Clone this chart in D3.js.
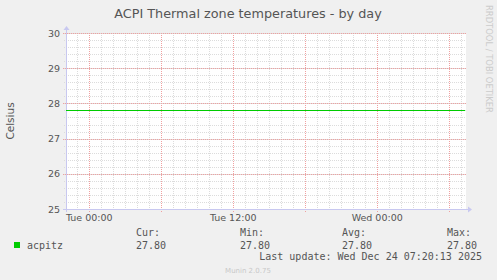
<!DOCTYPE html>
<html>
<head>
<meta charset="utf-8">
<script src="https://cdn.jsdelivr.net/npm/d3@7"></script>
<style>
  body { margin: 0; background: #f0f0f0; }
  svg { display: block; }
</style>
</head>
<body>
<svg id="chart"></svg>
<script>
// acpitz readings, 5 min samples (sparse - value does not move all day)
var times = ["2025-12-22T22:04:00", "2025-12-23T03:00:00", "2025-12-23T09:00:00",
	"2025-12-23T15:00:00", "2025-12-23T21:00:00", "2025-12-24T03:00:00", "2025-12-24T07:20:00"];
var values = [27.8, 27.8, 27.8, 27.8, 27.8, 27.8, 27.8];
var yTicks = [25, 26, 27, 28, 29, 30];
var xLabels = ["2025-12-23T00:00:00", "2025-12-23T12:00:00", "2025-12-24T00:00:00"];
var legendHead = ["Cur:", "Min:", "Avg:", "Max:"];
var legendVals = ["27.80", "27.80", "27.80", "27.80"];
var seriesName = "acpitz";
var startTime = "2025-12-22T22:04:00", endTime = "2025-12-24T07:24:00";

var svgWidth = 497, svgHeight = 280;
var margin = { top: 33, left: 66 };
var width = 400, height = 176;

var svg = d3.select("#chart")
	.attr("width", svgWidth)
	.attr("height", svgHeight);

svg.append("rect").attr("width", svgWidth).attr("height", svgHeight).attr("fill", "#f0f0f0");

var g = svg.append("g")
	.attr("transform", "translate(" + margin.left + "," + margin.top + ")");

var x = d3.scaleTime()
	.domain([new Date(startTime), new Date(endTime)])
	.range([0, width]);

var y = d3.scaleLinear()
	.domain([25, 30])
	.range([height, 0]);

var data = times.map(function(t, i) { return { date: new Date(t), value: values[i] }; });

g.append("rect").attr("width", width).attr("height", height).attr("fill", "#ffffff");

// minor grid
var minorX = d3.timeHour.every(1).range(x.domain()[0], x.domain()[1]);
g.selectAll(".mx").data(minorX).enter().append("line")
	.attr("x1", function(d) { return Math.round(x(d)) + 0.5; })
	.attr("x2", function(d) { return Math.round(x(d)) + 0.5; })
	.attr("y1", 0).attr("y2", height + 2)
	.attr("stroke", "#dcdcdc").attr("stroke-dasharray", "1,1");

var minorY = d3.range(25, 30.01, 0.2);
g.selectAll(".my").data(minorY).enter().append("line")
	.attr("x1", -2).attr("x2", width)
	.attr("y1", function(d) { return Math.round(y(d)) + 0.5; })
	.attr("y2", function(d) { return Math.round(y(d)) + 0.5; })
	.attr("stroke", "#dcdcdc").attr("stroke-dasharray", "1,1");

// major grid
var majorX = d3.timeHour.every(6).range(x.domain()[0], x.domain()[1]);
g.selectAll(".Mx").data(majorX).enter().append("line")
	.attr("x1", function(d) { return Math.round(x(d)) + 0.5; })
	.attr("x2", function(d) { return Math.round(x(d)) + 0.5; })
	.attr("y1", 0).attr("y2", height + 3)
	.attr("stroke", "#f0a0a0").attr("stroke-dasharray", "1,1");

g.selectAll(".My").data(yTicks).enter().append("line")
	.attr("x1", -3).attr("x2", width)
	.attr("y1", function(d) { return Math.round(y(d)) + 0.5; })
	.attr("y2", function(d) { return Math.round(y(d)) + 0.5; })
	.attr("stroke", "#f0a0a0").attr("stroke-dasharray", "1,1");

// axes
g.append("line").attr("x1", -3).attr("x2", width + 2)
	.attr("y1", height + 0.5).attr("y2", height + 0.5).attr("stroke", "#c8c8f0");
g.append("path").attr("d", "M" + (width + 2) + "," + (height - 2.5) + "l4,3l-4,3z").attr("fill", "#c8c8f0");
g.append("line").attr("x1", 0.5).attr("x2", 0.5)
	.attr("y1", height + 3).attr("y2", -3).attr("stroke", "#c8c8f0");
g.append("path").attr("d", "M-2.5,-3l3,-4l3,4z").attr("fill", "#c8c8f0");

// the series
var line = d3.line()
	.x(function(d) { return x(d.date); })
	.y(function(d) { return Math.round(y(d.value)) + 0.5; });

g.append("path")
	.datum(data)
	.attr("fill", "none")
	.attr("stroke", "#00cc00")
	.attr("stroke-width", 1.2)
	.attr("d", line);

// tick labels
g.selectAll(".yl").data(yTicks).enter().append("text")
	.attr("x", -6).attr("y", function(d) { return y(d) + 3.5; })
	.attr("text-anchor", "end")
	.attr("font-family", "DejaVu Sans").attr("font-size", 9.5).attr("fill", "#555")
	.text(function(d) { return d; });

var fmt = d3.timeFormat("%a %H:%M");
g.selectAll(".xl").data(xLabels).enter().append("text")
	.attr("x", function(d) { return x(new Date(d)); }).attr("y", height + 12)
	.attr("text-anchor", "middle")
	.attr("font-family", "DejaVu Sans").attr("font-size", 9.5).attr("fill", "#555")
	.text(function(d) { return fmt(new Date(d)); });

// titles
svg.append("text").attr("x", 248).attr("y", 18).attr("text-anchor", "middle")
	.attr("font-family", "DejaVu Sans").attr("font-size", 12.8).attr("fill", "#555")
	.text("ACPI Thermal zone temperatures - by day");

svg.append("text").attr("transform", "translate(14,121) rotate(-90)").attr("text-anchor", "middle")
	.attr("font-family", "DejaVu Sans").attr("font-size", 10.5).attr("fill", "#555")
	.text("Celsius");

svg.append("text").attr("transform", "translate(485.5,5) rotate(90)")
	.attr("font-family", "DejaVu Sans").attr("font-size", 8.4).attr("fill", "#cccccc")
	.text("RRDTOOL / TOBI OETIKER");

// legend
var colX = [136, 240, 342, 447];
var mono = "DejaVu Sans Mono";
svg.append("rect").attr("x", 14).attr("y", 242).attr("width", 6).attr("height", 6).attr("fill", "#00cc00");
svg.append("text").attr("x", 27).attr("y", 248.5)
	.attr("font-family", mono).attr("font-size", 10).attr("fill", "#555").text(seriesName);
svg.selectAll(".lh").data(legendHead).enter().append("text")
	.attr("x", function(d, i) { return colX[i]; }).attr("y", 235.5)
	.attr("font-family", mono).attr("font-size", 10).attr("fill", "#555")
	.text(function(d) { return d; });
svg.selectAll(".lv").data(legendVals).enter().append("text")
	.attr("x", function(d, i) { return colX[i]; }).attr("y", 248.5)
	.attr("font-family", mono).attr("font-size", 10).attr("fill", "#555")
	.text(function(d) { return d; });
svg.append("text").attr("x", 482).attr("y", 260).attr("text-anchor", "end")
	.attr("font-family", mono).attr("font-size", 10).attr("fill", "#555")
	.text("Last update: Wed Dec 24 07:20:13 2025");
svg.append("text").attr("x", 248).attr("y", 273).attr("text-anchor", "middle")
	.attr("font-family", "DejaVu Sans").attr("font-size", 7).attr("fill", "#c8c8c8")
	.text("Munin 2.0.75");
</script>
</body>
</html>
